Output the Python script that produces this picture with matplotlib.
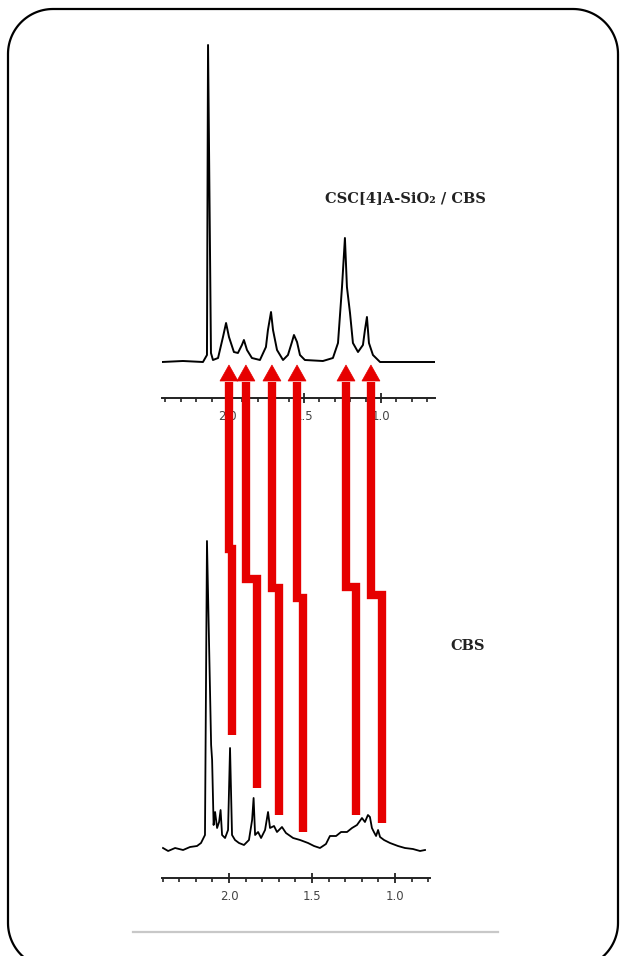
"""
1H NMR comparison: CSC[4]A-SiO2 / CBS (top) versus free CBS (bottom),
red arrows linking the matching signals.
"""
import numpy as np
import matplotlib
matplotlib.use("Agg")
import matplotlib.pyplot as plt
from matplotlib.lines import Line2D
from matplotlib.patches import Polygon
from matplotlib.ticker import MultipleLocator

# ---- data (ppm, intensity in arbitrary units) ----
top_ppm = [2.422, 2.286, 2.156, 2.130, 2.123, 2.104, 2.091, 2.058, 2.026, 2.006,
           1.987, 1.955, 1.929, 1.903, 1.890, 1.870, 1.838, 1.786, 1.747, 1.734,
           1.714, 1.701, 1.675, 1.636, 1.604, 1.578, 1.565, 1.545, 1.526, 1.494,
           1.377, 1.312, 1.279, 1.253, 1.234, 1.221, 1.201, 1.182, 1.149, 1.117,
           1.104, 1.091, 1.078, 1.052, 1.006, 0.831, 0.649]
top_int = [0, 1, 0, 7, 317, 9, 2, 4, 25, 39,
           25, 10, 9, 17, 22, 12, 4, 2, 15, 32,
           50, 32, 12, 2, 7, 20, 27, 20, 7, 2,
           1, 4, 19, 75, 124, 75, 49, 19, 10, 17,
           32, 45, 19, 7, 0, 0, 0]

bot_ppm = [2.398, 2.367, 2.325, 2.277, 2.235, 2.193, 2.169, 2.145, 2.133, 2.108,
           2.102, 2.093, 2.084, 2.072, 2.060, 2.051, 2.042, 2.024, 2.006, 1.994,
           1.982, 1.964, 1.940, 1.910, 1.880, 1.861, 1.852, 1.843, 1.825, 1.807,
           1.783, 1.765, 1.753, 1.729, 1.711, 1.681, 1.657, 1.614, 1.572, 1.524,
           1.488, 1.452, 1.416, 1.392, 1.355, 1.325, 1.289, 1.259, 1.229, 1.199,
           1.181, 1.163, 1.151, 1.139, 1.127, 1.114, 1.102, 1.090, 1.066, 1.030,
           0.982, 0.940, 0.892, 0.849, 0.819]
bot_int = [2, -1, 2, 0, 3, 4, 7, 15, 309, 105,
           90, 25, 38, 22, 28, 40, 15, 12, 20, 102,
           15, 10, 7, 5, 10, 30, 52, 15, 18, 12,
           20, 38, 22, 24, 18, 23, 17, 12, 10, 7,
           4, 2, 6, 14, 14, 18, 18, 22, 25, 32,
           28, 35, 33, 22, 18, 14, 20, 13, 10, 7,
           4, 2, 1, -1, 0]

tick_ppm = [2.0, 1.5, 1.0]
tick_labels = ["2.0", "1.5", "1.0"]

# matching signals: ppm in the top trace, ppm in the bottom trace
arrow_top_ppm = [1.987, 1.877, 1.708, 1.545, 1.227, 1.065]
arrow_bot_ppm = [1.982, 1.831, 1.699, 1.554, 1.235, 1.078]
arrow_end = [115, 62, 35, 18, 35, 27]      # bottom-trace intensity of the tail
arrow_jog = [301, 271, 262, 252, 263, 255]  # bottom-trace intensity of the step

label_top = "CSC[4]A-SiO\u2082 / CBS"
label_bot = "CBS"

W, H = 625, 956
RED = "#e60000"
SERIF = ["DejaVu Serif", "Liberation Serif"]

fig = plt.figure(figsize=(W / 100, H / 100), dpi=100)
fig.patch.set_facecolor("white")


def px_axes(left, top, right, bottom):
    return fig.add_axes([left / W, 1 - bottom / H, (right - left) / W, (bottom - top) / H])


def spectrum_axes(ax, xlim, ylim, outward):
    ax.set_xlim(*xlim)
    ax.set_ylim(*ylim)
    ax.patch.set_alpha(0)
    for s in ("top", "left", "right"):
        ax.spines[s].set_visible(False)
    ax.spines["bottom"].set_position(("outward", outward))
    ax.spines["bottom"].set_linewidth(1.4)
    ax.spines["bottom"].set_color("#222222")
    ax.set_yticks([])
    ax.set_xticks(tick_ppm)
    ax.set_xticklabels(tick_labels)
    ax.xaxis.set_minor_locator(MultipleLocator(0.1))
    ax.tick_params(axis="x", which="major", direction="inout", length=7, width=1.3,
                   color="#222222", labelsize=8.5, labelcolor="#444444", pad=5.5)
    ax.tick_params(axis="x", which="minor", direction="out", length=3, width=1.2,
                   color="#222222")


ax_top = px_axes(162, 35, 435, 370)
spectrum_axes(ax_top, (2.422, 0.649), (-8, 327), 28 * 0.72)
ax_top.plot(top_ppm, top_int, color="black", lw=1.4, solid_joinstyle="round")

ax_bot = px_axes(162, 530, 430, 858)
spectrum_axes(ax_bot, (2.404, 0.789), (-8, 320), 20 * 0.72)
ax_bot.plot(bot_ppm, bot_int, color="black", lw=1.3, solid_joinstyle="round")

# overlay in pixel units for arrows, frame and text
ov = fig.add_axes([0, 0, 1, 1])
ov.set_xlim(0, W)
ov.set_ylim(H, 0)
ov.axis("off")
ov.patch.set_alpha(0)


def to_px(ax, x, y):
    disp = ax.transData.transform((x, y))
    return ov.transData.inverted().transform(disp)


for tp, bp, end, jog in zip(arrow_top_ppm, arrow_bot_ppm, arrow_end, arrow_jog):
    xu, tip_y = to_px(ax_top, tp, -3)
    _, base_y = to_px(ax_top, tp, -19)
    xl, end_y = to_px(ax_bot, bp, end)
    _, jog_y = to_px(ax_bot, bp, jog)
    ov.add_line(Line2D([xl, xl, xu, xu], [end_y, jog_y, jog_y, base_y + 1],
                       color=RED, lw=6.0, solid_capstyle="butt",
                       solid_joinstyle="miter"))
    ov.add_patch(Polygon([(xu - 9, base_y), (xu + 9, base_y), (xu, tip_y)],
                         closed=True, facecolor=RED, edgecolor=RED, lw=0.5))

ov.text(325, 198, label_top, ha="left", va="center", fontsize=10.5,
        fontweight="bold", family=SERIF, color="#222222")
ov.text(450, 646, label_bot, ha="left", va="center", fontsize=10.5,
        fontweight="bold", family=SERIF, color="#222222")

# thin grey rule under the lower trace
ov.add_line(Line2D([133, 498], [932, 932], color="#c8c8c8", lw=1.6))

# rounded frame, running off the bottom edge like the original
x0, y0, x1, y1, r = 8, 9, 618, 968, 45
a = np.linspace(0, np.pi / 2, 30)
fx = np.concatenate([x1 - r + r * np.cos(a), x0 + r - r * np.sin(a),
                     x0 + r - r * np.cos(a), x1 - r + r * np.sin(a)])
fy = np.concatenate([y0 + r - r * np.sin(a), y0 + r - r * np.cos(a),
                     y1 - r + r * np.sin(a), y1 - r + r * np.cos(a)])
ov.add_patch(Polygon(np.column_stack([fx, fy]), closed=True, facecolor="none",
                     edgecolor="black", lw=1.6, clip_on=False))

fig.savefig("out.png", dpi=100, facecolor="white")
